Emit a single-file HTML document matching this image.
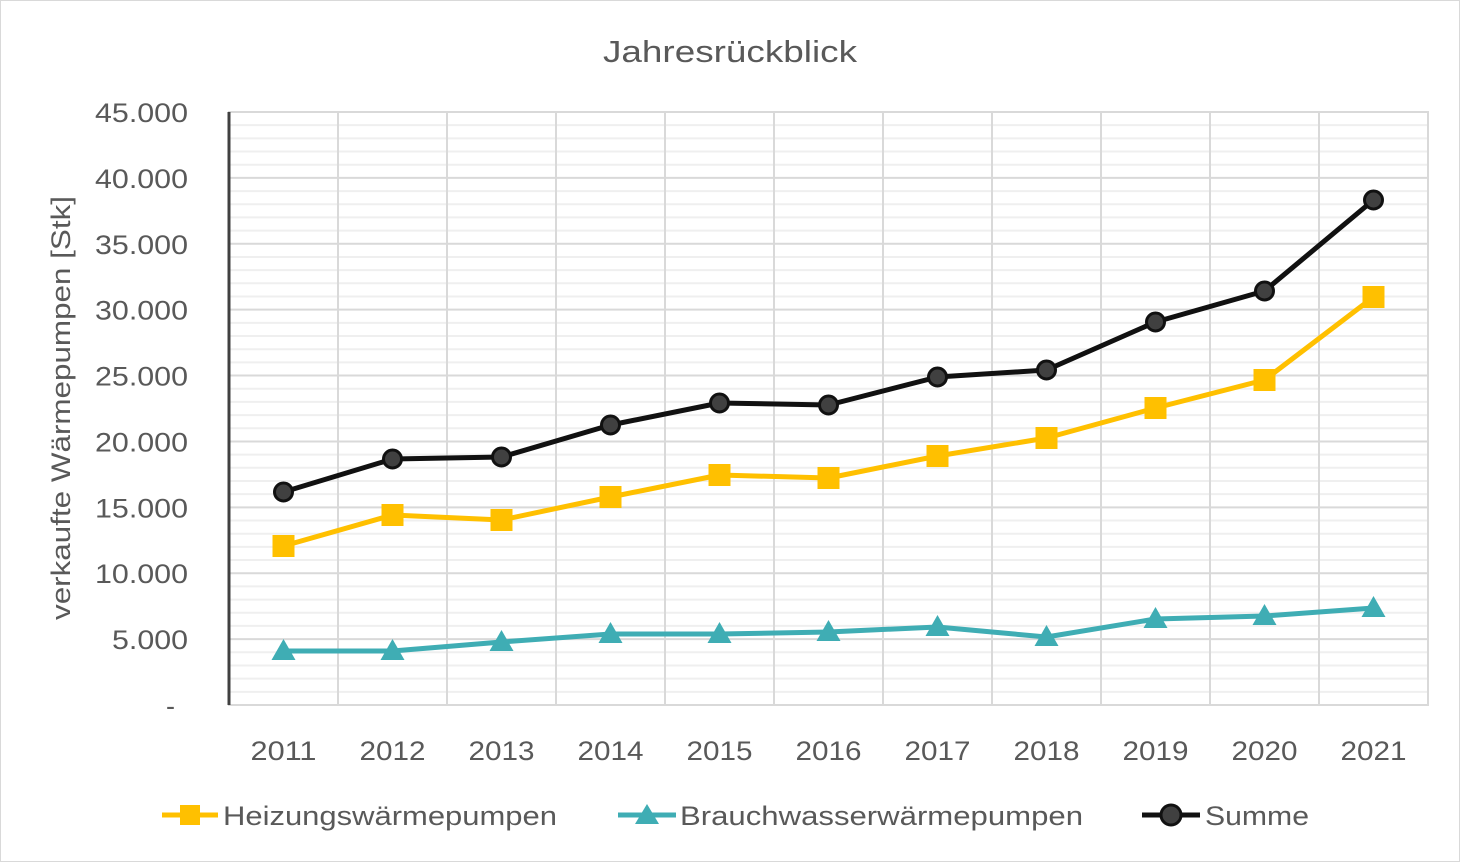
<!DOCTYPE html>
<html><head><meta charset="utf-8"><style>
html,body{margin:0;padding:0;background:#fff}
svg{display:block}
text{font-family:"Liberation Sans",sans-serif;fill:#595959}
</style></head><body>
<svg width="1462" height="864" viewBox="0 0 1462 864" xmlns="http://www.w3.org/2000/svg">
<rect x="0.5" y="0.5" width="1459" height="861" fill="#fff" stroke="#d9d9d9"/>
<text x="603" y="62" font-size="31" textLength="254" lengthAdjust="spacingAndGlyphs">Jahresrückblick</text>
<g id="minor" stroke="#efefef" stroke-width="2"></g>
<g id="major" stroke="#d9d9d9" stroke-width="2"></g>
<rect x="229" y="112" width="1199" height="593" fill="none" stroke="#d9d9d9" stroke-width="2"/>
<line x1="229" y1="112" x2="229" y2="705" stroke="#404040" stroke-width="3"/>
<g id="ylab" font-size="27"></g>
<g id="xlab" font-size="27"></g>
<text transform="translate(70,620) rotate(-90)" font-size="27" textLength="424" lengthAdjust="spacingAndGlyphs">verkaufte Wärmepumpen [Stk]</text>
<g id="series"></g>
<g font-size="27">
<line x1="162" y1="815" x2="218" y2="815" stroke="#ffc000" stroke-width="5"/><rect x="180" y="805" width="20" height="20" fill="#ffc000"/>
<text x="223" y="825" textLength="334" lengthAdjust="spacingAndGlyphs">Heizungswärmepumpen</text>
<line x1="618" y1="815" x2="676" y2="815" stroke="#3fadb4" stroke-width="5"/><polygon points="647,804 659,824 635,824" fill="#3fadb4"/>
<text x="680" y="825" textLength="403" lengthAdjust="spacingAndGlyphs">Brauchwasserwärmepumpen</text>
<line x1="1142" y1="815" x2="1200" y2="815" stroke="#111" stroke-width="5"/><circle cx="1171" cy="815" r="10" fill="#404040" stroke="#111" stroke-width="3"/>
<text x="1205" y="825" textLength="104" lengthAdjust="spacingAndGlyphs">Summe</text>
</g>
</svg>
<script>
const NS="http://www.w3.org/2000/svg";
function el(p,t,a,txt){const e=document.createElementNS(NS,t);for(const k in a)e.setAttribute(k,a[k]);if(txt!==undefined)e.textContent=txt;document.getElementById(p).appendChild(e);return e;}
const y0=705,pk=593/45;
for(let i=1;i<45;i++){if(i%5)el("minor","line",{x1:229,x2:1428,y1:y0-i*pk,y2:y0-i*pk});}
for(let i=5;i<45;i+=5)el("major","line",{x1:229,x2:1428,y1:y0-i*pk,y2:y0-i*pk});
const cw=1199/11;
for(let k=1;k<11;k++)el("major","line",{x1:229+k*cw,x2:229+k*cw,y1:112,y2:705});
const labs=["-","5.000","10.000","15.000","20.000","25.000","30.000","35.000","40.000","45.000"];
labs.forEach((l,i)=>{
  if(i==0){el("ylab","text",{x:166,y:y0+10},l);return;}
  const w=l.length==6?93:76;
  el("ylab","text",{x:188-w,y:y0-i*5*pk+10,textLength:w,lengthAdjust:"spacingAndGlyphs"},l);
});
for(let k=0;k<11;k++)el("xlab","text",{x:229+cw*(k+0.5)-33,y:760,textLength:66,lengthAdjust:"spacingAndGlyphs"},String(2011+k));
const H=[546,515,520,497,475,478,456,438,408,380,297];
const S=[492,459,457,425,403,405,377,370,322,291,200];
const B=[651,651,642,634,634,632,627,637,619,616,608];
const X=k=>229+cw*(k+0.5);
function line(d,c){el("series","polyline",{points:d.map((y,k)=>X(k)+","+y).join(" "),fill:"none",stroke:c,"stroke-width":5,"stroke-linejoin":"round"});}
line(H,"#ffc000");line(B,"#3fadb4");line(S,"#111");
H.forEach((y,k)=>el("series","rect",{x:X(k)-11,y:y-11,width:22,height:22,fill:"#ffc000"}));
B.forEach((y,k)=>el("series","polygon",{points:`${X(k)},${y-12} ${X(k)+12},${y+9} ${X(k)-12},${y+9}`,fill:"#3fadb4"}));
S.forEach((y,k)=>el("series","circle",{cx:X(k),cy:y,r:9,fill:"#404040",stroke:"#111","stroke-width":3}));
</script>
</body></html>
